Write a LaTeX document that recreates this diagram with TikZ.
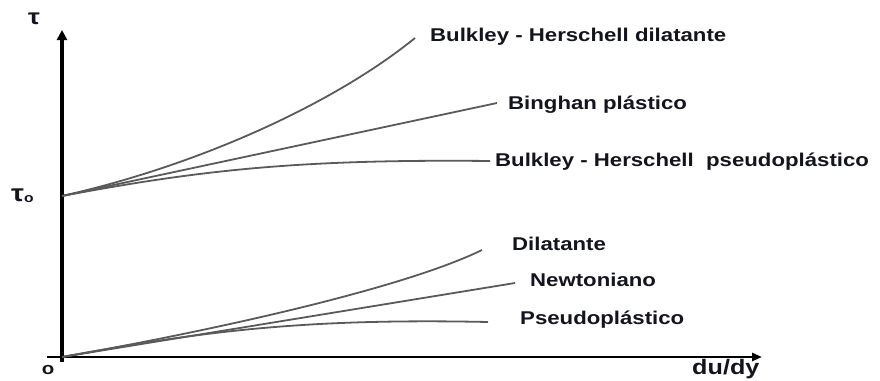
\documentclass[tikz,border=0pt]{standalone}
\usepackage{fontspec}
\setmainfont{Liberation Sans}
\usetikzlibrary{arrows.meta}
\definecolor{curvegray}{RGB}{90,90,90}
\definecolor{txt}{RGB}{20,20,30}
\newcommand{\wide}[1]{\scalebox{1.2}[1]{#1}}
\begin{document}
\begin{tikzpicture}[x=1pt,y=-1pt,
  axis/.style={line width=3.4pt,black},
  curve/.style={line width=1.8pt,curvegray},
  lbl/.style={anchor=west,inner sep=0pt,text=txt,font=\fontsize{18.5}{18.5}\selectfont\bfseries}]
\useasboundingbox (0,0) rectangle (880,380);
% axes
\coordinate (ybot) at (62,362);
\coordinate (ytop) at (62,30);
\coordinate (xleft) at (47,357);
\coordinate (xright) at (762,357);
\draw[axis,-{Triangle[length=10pt,width=10pt]}] (ybot) -- (ytop);
\draw[axis,line width=2.8pt,-{Triangle[length=10pt,width=8pt]}] (xleft) -- (xright);
% axis labels
\node[lbl,font=\fontsize{22}{22}\selectfont\bfseries] (tau) at (34,19) [anchor=center] {\wide{τ}};
\node[lbl,font=\fontsize{24}{24}\selectfont\bfseries] (tau0) at (11,196) {\wide{τ}\raisebox{-1pt}{\fontsize{13}{13}\selectfont\wide{o}}};
\node[lbl,font=\fontsize{17}{17}\selectfont\bfseries] (o) at (48,370) [anchor=center] {\wide{o}};
\node[lbl,font=\fontsize{21}{21}\selectfont\bfseries] (dudy) at (692,369) {\wide{du/dy}};
% origins
\coordinate (u0) at (62,196);
\coordinate (l0) at (62,357);
% curve ends
\coordinate (e1) at (415,38);
\coordinate (e2) at (497,103);
\coordinate (e3) at (490,161);
\coordinate (e4) at (482,250);
\coordinate (e5) at (515,283);
\coordinate (e6) at (488,322);
% curves
\draw[curve] (u0) .. controls (200,165) and (335,103) .. (e1);
\draw[curve] (u0) -- (e2);
\draw[curve] (u0) .. controls (200,170) and (300,159) .. (e3);
\draw[curve] (l0) .. controls (200,333) and (400,290) .. (e4);
\draw[curve] (l0) -- (e5);
\draw[curve] (l0) .. controls (200,332) and (300,318) .. (e6);
% labels
\node[lbl] (l1) at (430,37) {\wide{Bulkley - Herschell dilatante}};
\node[lbl] (l2) at (508,105) {\wide{Binghan plástico}};
\node[lbl] (l3) at (495,162) {\wide{Bulkley - Herschell\ \ pseudoplástico}};
\node[lbl] (l4) at (512,244) {\wide{Dilatante}};
\node[lbl] (l5) at (530,280) {\wide{Newtoniano}};
\node[lbl] (l6) at (520,320) {\wide{Pseudoplástico}};
\end{tikzpicture}
\end{document}
